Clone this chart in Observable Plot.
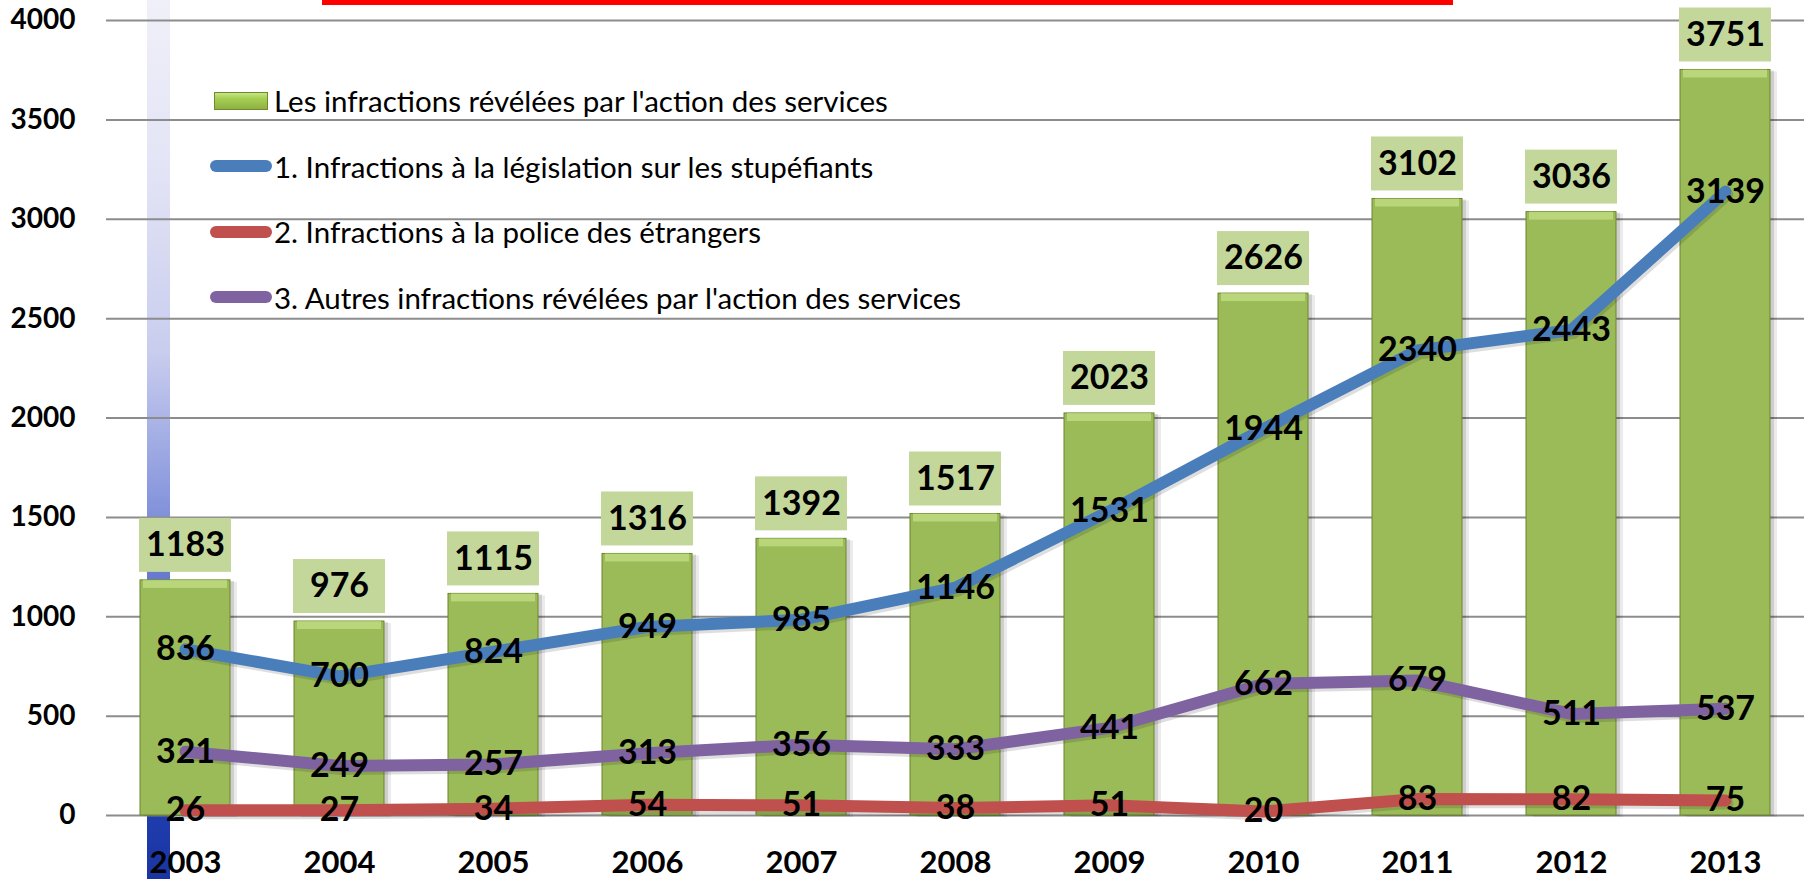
<!DOCTYPE html>
<html>
<head>
<meta charset="utf-8">
<script src="https://cdn.jsdelivr.net/npm/d3@7"></script>
<script src="https://cdn.jsdelivr.net/npm/@observablehq/plot@0.6"></script>
<style>
  html, body { margin: 0; padding: 0; background: #ffffff; }
  #wrap { position: relative; width: 1804px; height: 879px; overflow: hidden; font-family: Lato, "Open Sans", sans-serif; }
  #strip { position: absolute; left: 147px; top: 0; width: 23px; height: 879px; z-index: 0;
    background: linear-gradient(to bottom, #f0f0f9 0%, #e2e3f5 20%, #c9cdee 40%, #8f9ddf 55%, #5e72cc 68%, #3550bb 85%, #1f3cae 93%, #1a35a3 100%); }
  #redline { position: absolute; left: 322px; top: 0; width: 1131px; height: 5px; background: #ff0000; z-index: 3; }
  #chart { position: absolute; left: 0; top: 0; z-index: 1; }
  #legend { position: absolute; left: 210px; top: 68px; z-index: 2; }
  .lrow { display: flex; align-items: center; height: 65.5px; }
  .lsw { width: 62px; height: 18px; display: flex; align-items: center; margin-right: 2px; }
  .lsw .box { width: 54px; height: 18px; margin-left: 4px; box-sizing: border-box; border: 1px solid #6e8a2c;
    background: linear-gradient(to bottom, #c6e684 0%, #a6cf52 35%, #8fb043 100%); }
  .lsw .ln { width: 62px; height: 12px; border-radius: 6px; }
  .ltxt { font-size: 29.5px; color: #000; white-space: nowrap; line-height: 1; }
  #defs { position: absolute; left: 0; top: 0; width: 0; height: 0; }
</style>
</head>
<body>
<svg id="defs" width="0" height="0" xmlns="http://www.w3.org/2000/svg">
  <defs>
    <linearGradient id="barGrad" x1="0" y1="0" x2="0" y2="1">
      <stop offset="0" stop-color="#b6de5c"/>
      <stop offset="0.3" stop-color="#a6ce50"/>
      <stop offset="0.7" stop-color="#93b645"/>
      <stop offset="1" stop-color="#7f9d39"/>
    </linearGradient>
    <linearGradient id="barSide" x1="0" y1="0" x2="1" y2="0">
      <stop offset="0" stop-color="#3d5214" stop-opacity="0.45"/>
      <stop offset="0.06" stop-color="#3d5214" stop-opacity="0.1"/>
      <stop offset="0.5" stop-color="#3d5214" stop-opacity="0"/>
      <stop offset="0.92" stop-color="#3d5214" stop-opacity="0.1"/>
      <stop offset="1" stop-color="#3d5214" stop-opacity="0.5"/>
    </linearGradient>
  </defs>
</svg>
<div id="wrap">
  <div id="strip"></div>
  <div id="redline"></div>
  <div id="chart"></div>
  <div id="legend"></div>
</div>
<script>
// ---- Data ----
const years = ["2003","2004","2005","2006","2007","2008","2009","2010","2011","2012","2013"];
const totals = [1183, 976, 1115, 1316, 1392, 1517, 2023, 2626, 3102, 3036, 3751];
const stupefiants = [836, 700, 824, 949, 985, 1146, 1531, 1944, 2340, 2443, 3139];
const etrangers = [26, 27, 34, 54, 51, 38, 51, 20, 83, 82, 75];
const autres = [321, 249, 257, 313, 356, 333, 441, 662, 679, 511, 537];
const yTicks = [0, 500, 1000, 1500, 2000, 2500, 3000, 3500, 4000];
const barName = "Les infractions révélées par l'action des services";
const lineNames = [
  "1. Infractions à la législation sur les stupéfiants",
  "2. Infractions à la police des étrangers",
  "3. Autres infractions révélées par l'action des services"
];
const lineSeries = [stupefiants, etrangers, autres];
const lineColors = ["#4a7ebb", "#c0504d", "#7f63a1"];

// ---- Tables built from the arrays ----
const barRows = years.map((year, i) => ({year, total: totals[i]}));
const lineRows = lineNames.flatMap((series, s) =>
  years.map((year, i) => ({series, year, value: lineSeries[s][i]})));

const FONT = "Lato, 'Open Sans', sans-serif";

const chart = Plot.plot({
  width: 1804,
  height: 879,
  marginTop: 20,
  marginBottom: 64,
  marginLeft: 106,
  marginRight: 0,
  style: {background: "transparent", overflow: "visible", fontFamily: FONT, color: "#000"},
  x: {type: "band", domain: years, paddingInner: 0.418, paddingOuter: 0.209, label: null},
  y: {domain: [0, 4000], label: null},
  color: {domain: lineNames, range: lineColors},
  marks: [
    Plot.gridY(yTicks, {stroke: "#8c8c8c", strokeOpacity: 1, strokeWidth: 2}),
    // soft shadow of the bars
    Plot.barY(barRows, {x: "year", y: "total", fill: "#000", fillOpacity: 0.12, dx: 4, dy: 1}),
    Plot.barY(barRows, {x: "year", y: "total", fill: "#000", fillOpacity: 0.08, dx: 7, dy: 2}),
    Plot.barY(barRows, {x: "year", y: "total", fill: "#9bbb59", stroke: "#6b862b", strokeWidth: 1, ariaLabel: "bars-main"}),
    Plot.barY(barRows, {x: "year", y: "total", fill: "none", ariaLabel: "bars-side"}),
    Plot.barY(barRows, {x: "year", y1: "total", y2: "total", insetBottom: -8, insetLeft: 3, insetRight: 3, fill: "#d3ec96", fillOpacity: 0.55}),
    Plot.barY(barRows, {x: "year", y1: "total", y2: "total", insetTop: -62, insetBottom: 8, insetLeft: -1, insetRight: -1, fill: "#c4d79b"}),
    Plot.text(barRows, {x: "year", y: "total", text: d => String(d.total), dy: -35, fontSize: 34, fontWeight: "bold", fill: "#000"}),
    // soft shadow of the lines
    Plot.line(lineRows, {x: "year", y: "value", z: "series", stroke: "#000", strokeOpacity: 0.13, strokeWidth: 12, dx: 2, dy: 3, strokeLinecap: "round", strokeLinejoin: "round"}),
    Plot.line(lineRows, {x: "year", y: "value", z: "series", stroke: "series", strokeWidth: 12, strokeLinecap: "round", strokeLinejoin: "round"}),
    Plot.text(lineRows, {x: "year", y: "value", text: d => String(d.value), fontSize: 34, fontWeight: "bold", fill: "#000"}),
    Plot.axisY(yTicks, {tickSize: 0, tickPadding: 31, fontSize: 28, fontWeight: "bold", label: null, tickFormat: d => String(d)}),
    Plot.axisX({tickSize: 0, tickPadding: 35, fontSize: 31, fontWeight: "bold", label: null})
  ]
});
document.getElementById("chart").appendChild(chart);

// ---- Gradient fills for the bars ----
const root = chart.tagName.toLowerCase() === "svg" ? chart : chart.querySelector("svg");
function paint(label, fill) {
  root.querySelectorAll(`g[aria-label="${label}"]`).forEach(g => {
    g.setAttribute("fill", fill);
    g.querySelectorAll("rect").forEach(r => r.setAttribute("fill", fill));
  });
}
paint("bars-main", "url(#barGrad)");
paint("bars-side", "url(#barSide)");

// ---- Legend ----
const legend = d3.select("#legend");
const r0 = legend.append("div").attr("class", "lrow");
r0.append("div").attr("class", "lsw").append("div").attr("class", "box");
r0.append("div").attr("class", "ltxt").text(barName);
lineNames.forEach((name, i) => {
  const r = legend.append("div").attr("class", "lrow");
  r.append("div").attr("class", "lsw").append("div").attr("class", "ln").style("background", lineColors[i]);
  r.append("div").attr("class", "ltxt").text(name);
});
</script>
</body>
</html>
